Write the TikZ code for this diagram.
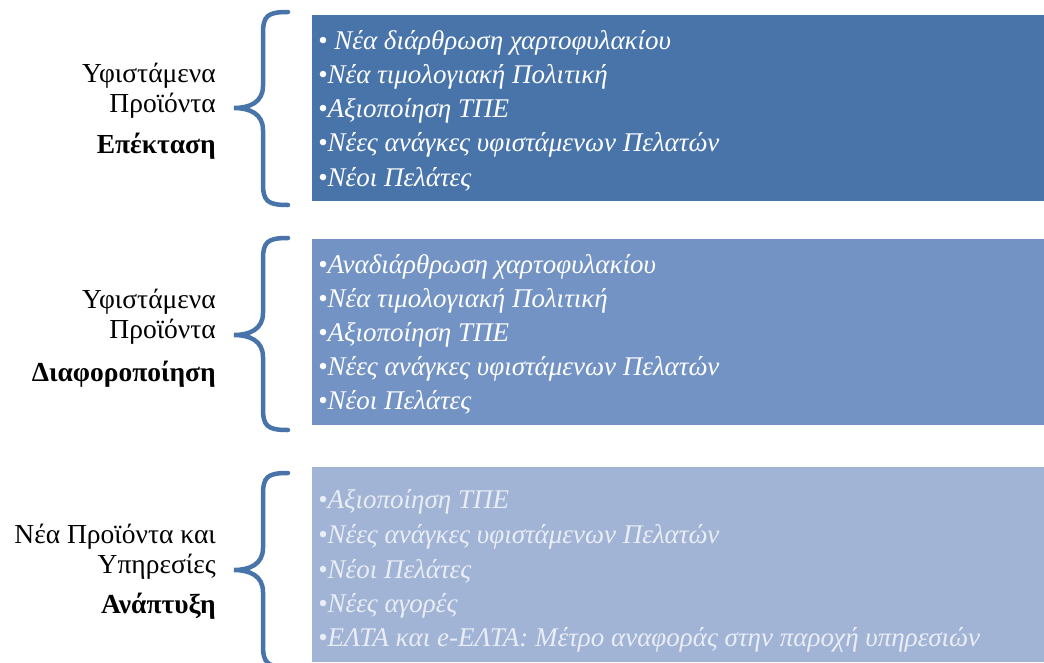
\documentclass[tikz,border=0pt]{standalone}
\usepackage{fontspec}
\setmainfont{Liberation Serif}
\definecolor{blueA}{HTML}{4874AA}
\definecolor{blueB}{HTML}{7293C3}
\definecolor{blueC}{HTML}{A2B4D5}
\definecolor{paleText}{HTML}{E9EDF5}
\begin{document}
\begin{tikzpicture}[x=1pt,y=-1pt,
  itemtext/.style={anchor=base west, inner sep=0pt, text=white,
    font=\itshape\fontsize{27}{27}\selectfont},
  paleitem/.style={itemtext, text=paleText},
  label/.style={anchor=base east, inner sep=0pt,
    font=\fontsize{27.5}{27.5}\selectfont},
  boldlabel/.style={label, font=\bfseries\fontsize{27.5}{27.5}\selectfont},
  bracket/.style={draw=blueA, line width=4.5pt, line cap=round}]
\useasboundingbox (0,0) rectangle (1044,662);
\clip (0,0) rectangle (1044,662);

% coloured panels
\fill[blueA] (312,15) rectangle (1044,201);
\fill[blueB] (312,239) rectangle (1044,425);
\fill[blueC] (312,467) rectangle (1044,662);

% curly brackets: top, tip and bottom heights
\newcommand\curlybr[3]{%
  \draw[bracket] (288,#1) .. controls (267,#1) and (263,#1+4) .. (263,#1+22)
    -- (263,#2-22) .. controls (263,#2-6) and (250,#2) .. (234,#2)
    .. controls (250,#2) and (263,#2+6) .. (263,#2+22)
    -- (263,#3-22) .. controls (263,#3-4) and (267,#3) .. (288,#3);}
\curlybr{12}{108}{205}
\curlybr{238}{335}{430}
\curlybr{473}{570}{667}

% labels on the left
\node[label] (l1a) at (216,82) {Υφιστάμενα};
\node[label] (l1b) at (216,112) {Προϊόντα};
\node[boldlabel] (l1c) at (216,153) {Επέκταση};
\node[label] (l2a) at (216,308) {Υφιστάμενα};
\node[label] (l2b) at (216,338) {Προϊόντα};
\node[boldlabel] (l2c) at (216,381) {Διαφοροποίηση};
\node[label] (l3a) at (216,543) {Νέα Προϊόντα και};
\node[label] (l3b) at (216,573) {Υπηρεσίες};
\node[boldlabel] (l3c) at (216,613) {Ανάπτυξη};

% items of the first panel
\node[itemtext] (a1) at (318,49) {• Νέα διάρθρωση χαρτοφυλακίου};
\node[itemtext] (a2) at (318,83) {•Νέα τιμολογιακή Πολιτική};
\node[itemtext] (a3) at (318,117) {•Αξιοποίηση ΤΠΕ};
\node[itemtext] (a4) at (318,151) {•Νέες ανάγκες υφιστάμενων Πελατών};
\node[itemtext] (a5) at (318,186) {•Νέοι Πελάτες};

% items of the second panel
\node[itemtext] (b1) at (318,273) {•Αναδιάρθρωση χαρτοφυλακίου};
\node[itemtext] (b2) at (318,307) {•Νέα τιμολογιακή Πολιτική};
\node[itemtext] (b3) at (318,341) {•Αξιοποίηση ΤΠΕ};
\node[itemtext] (b4) at (318,375) {•Νέες ανάγκες υφιστάμενων Πελατών};
\node[itemtext] (b5) at (318,409) {•Νέοι Πελάτες};

% items of the third panel
\node[paleitem] (c1) at (318,508) {•Αξιοποίηση ΤΠΕ};
\node[paleitem] (c2) at (318,543) {•Νέες ανάγκες υφιστάμενων Πελατών};
\node[paleitem] (c3) at (318,578) {•Νέοι Πελάτες};
\node[paleitem] (c4) at (318,612) {•Νέες αγορές};
\node[paleitem] (c5) at (318,646) {•ΕΛΤΑ και e-ΕΛΤΑ: Μέτρο αναφοράς στην παροχή υπηρεσιών};
\end{tikzpicture}
\end{document}
